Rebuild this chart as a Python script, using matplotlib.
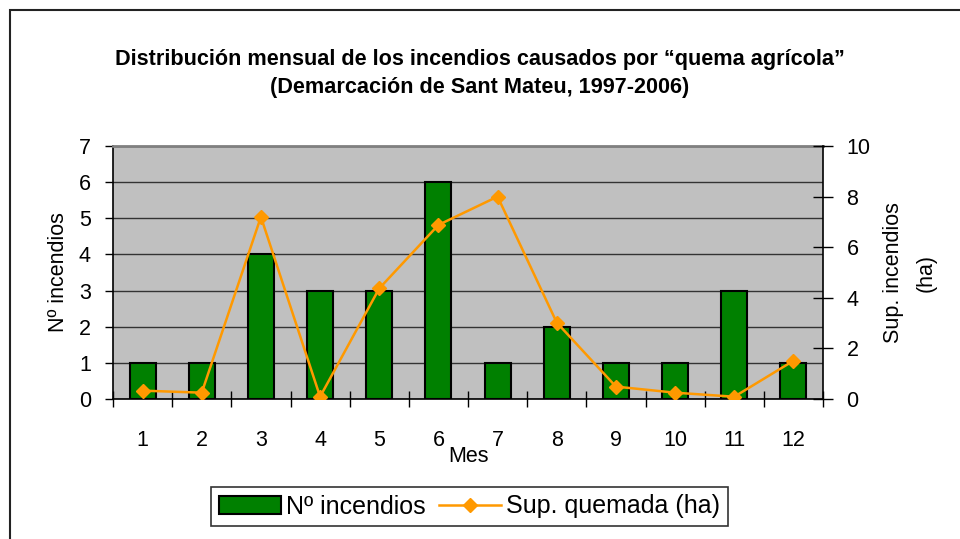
import numpy as np
import matplotlib
matplotlib.use('Agg')
import matplotlib.pyplot as plt
from matplotlib.patches import Rectangle
from matplotlib.lines import Line2D

# data
meses = ['1', '2', '3', '4', '5', '6', '7', '8', '9', '10', '11', '12']
n_incendios = [1, 1, 4, 3, 3, 6, 1, 2, 1, 1, 3, 1]
sup_quemada = [0.33, 0.25, 7.2, 0.09, 4.37, 6.88, 8.0, 3.02, 0.49, 0.25, 0.09, 1.51]

plt.rcParams['font.family'] = ['Liberation Sans', 'DejaVu Sans']

fig = plt.figure(figsize=(9.6, 5.39), dpi=100)
fig.patch.set_facecolor('white')

# outer chart border (cut by the image edges on right / bottom)
fig.patches.append(Rectangle((9.5 / 960, -0.1), 1.2, 1 - 9.5 / 539 + 0.1,
                             transform=fig.transFigure, fill=False,
                             edgecolor='#222222', linewidth=1.5))

ax = fig.add_axes([113 / 960, 1 - 399 / 539, 710 / 960, 253 / 539])
ax.set_facecolor('#C0C0C0')
x = np.arange(len(meses))

ax.set_axisbelow(True)
ax.bar(x, n_incendios, width=0.44, color='#008000', edgecolor='black',
       linewidth=1.5, zorder=2)
ax.set_ylim(0, 7)
ax.set_xlim(-0.5, len(meses) - 0.5)
ax.set_yticks(range(0, 8))
ax.yaxis.grid(True, color='#333333', linewidth=1)
ax.set_xticks(x)
ax.set_xticklabels(meses)
ax.set_xticks(np.arange(-0.5, len(meses)), minor=True)
ax.tick_params(axis='x', which='major', length=0, labelsize=15.5, pad=22)
ax.tick_params(axis='x', which='minor', direction='inout', length=12, width=1)
ax.tick_params(axis='y', direction='out', length=6, width=1, labelsize=15.5, pad=10)
ax.spines['top'].set_color('#808080')
ax.spines['top'].set_linewidth(2)
ax.spines['right'].set_visible(False)
for s in ('left', 'bottom'):
    ax.spines[s].set_linewidth(1.2)
ax.set_ylabel('Nº incendios', fontsize=15.5, labelpad=7)
ax.set_xlabel('Mes', fontsize=15.5, labelpad=-3)

ax2 = ax.twinx()
ax2.plot(x, sup_quemada, color='#FF9900', linewidth=1.8, marker='D',
         markersize=7, zorder=3)
ax2.set_ylim(0, 10)
ax2.set_yticks(range(0, 11, 2))
ax2.tick_params(axis='y', direction='inout', length=14, width=1, labelsize=15.5, pad=10)
for s in ('top', 'left', 'bottom'):
    ax2.spines[s].set_visible(False)
ax2.spines['right'].set_linewidth(1.2)
ax2.set_ylabel('Sup. incendios\n(ha)', fontsize=15.5, labelpad=9, linespacing=1.75)

fig.text(0.5, 1 - 60 / 539,
         'Distribución mensual de los incendios causados por “quema agrícola”',
         ha='center', va='center', fontsize=15.6, fontweight='bold')
fig.text(0.5, 1 - 88 / 539, '(Demarcación de Sant Mateu, 1997-2006)',
         ha='center', va='center', fontsize=15.6, fontweight='bold')

handles = [Rectangle((0, 0), 1, 1, facecolor='#008000', edgecolor='black', linewidth=1.5),
           Line2D([], [], color='#FF9900', linewidth=1.8, marker='D', markersize=7)]
leg = fig.legend(handles, ['Nº incendios', 'Sup. quemada (ha)'], ncol=2,
                 loc='center', bbox_to_anchor=(469.5 / 960, 1 - 506.5 / 539),
                 fontsize=18, frameon=True, fancybox=False, edgecolor='black',
                 handlelength=2.5, handletextpad=0.2, columnspacing=0.5,
                 borderpad=0.3)
leg.get_frame().set_linewidth(1.2)

fig.savefig('out.png', dpi=100)
